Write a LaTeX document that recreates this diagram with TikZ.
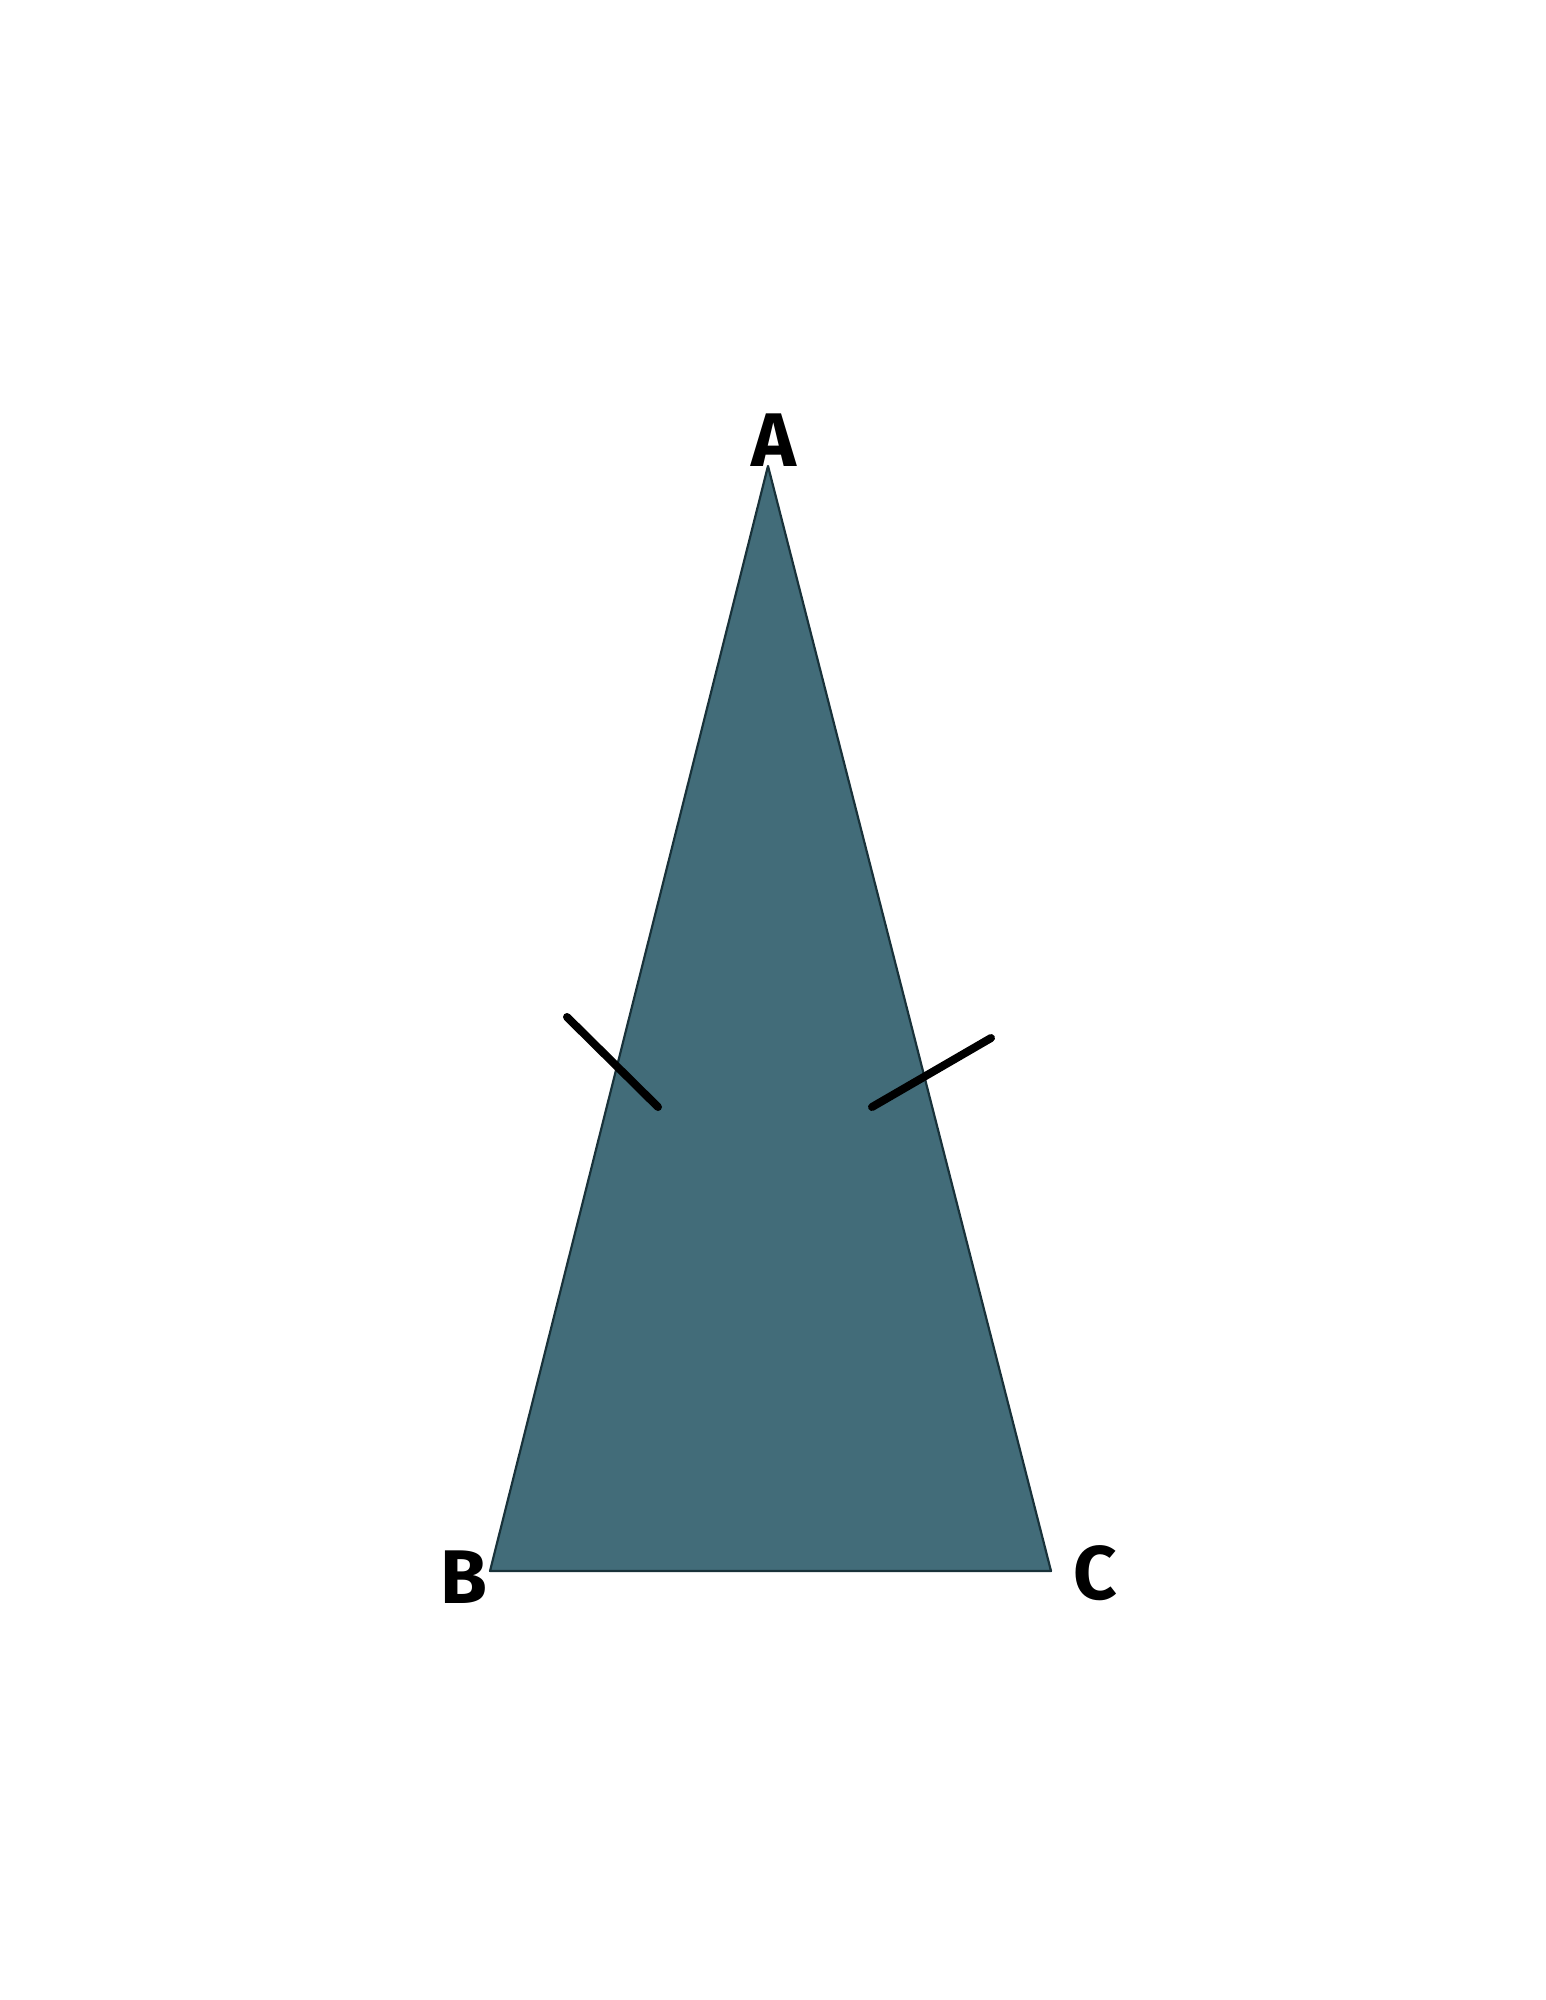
\documentclass[tikz,border=0pt]{standalone}
\usepackage{fontspec}
\setmainfont{Fira Sans}
\definecolor{tri}{RGB}{66,108,121}
\definecolor{triedge}{RGB}{25,50,58}
\begin{document}
\begin{tikzpicture}[x=1pt,y=-1pt,
  lbl/.style={font=\fontsize{76}{80}\selectfont\bfseries, inner sep=0pt},
  tick/.style={line width=8pt, line cap=round}]
\useasboundingbox (0,0) rectangle (1545,2000);
\coordinate (A) at (768,466);
\coordinate (B) at (490,1571);
\coordinate (C) at (1051,1571);
\filldraw[fill=tri, draw=triedge, line width=2.2pt, line join=round] (A) -- (B) -- (C) -- cycle;
\node[lbl] (lA) at (774,440) {A};
\node[lbl] (lB) at (464,1577) {B};
\node[lbl] (lC) at (1095,1573) {C};
\coordinate (t1a) at (567,1017);
\coordinate (t1b) at (658,1107);
\coordinate (t2a) at (872,1107);
\coordinate (t2b) at (991,1038);
\draw[tick] (t1a) -- (t1b);
\draw[tick] (t2a) -- (t2b);
\end{tikzpicture}
\end{document}
